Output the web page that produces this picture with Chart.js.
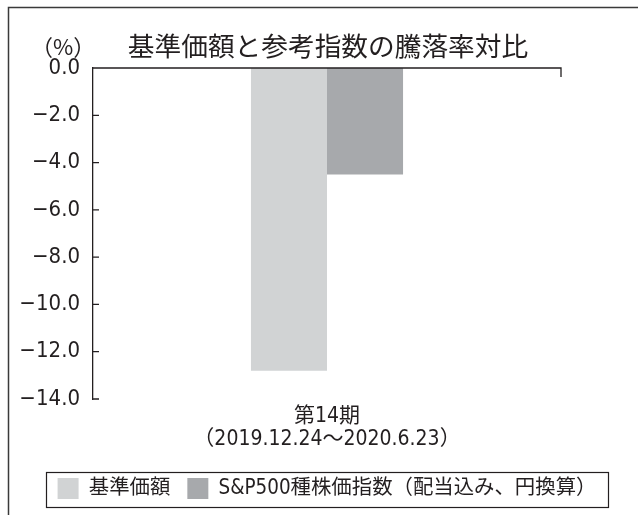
<!DOCTYPE html>
<html lang="ja">
<head>
<meta charset="utf-8">
<title>基準価額と参考指数の騰落率対比</title>
<script src="https://cdn.jsdelivr.net/npm/chart.js@4.4.1/dist/chart.umd.min.js"></script>
<style>
  html, body { margin: 0; padding: 0; background: #fff; }
  #wrap { position: relative; width: 638px; height: 515px; }
</style>
</head>
<body>
<div id="wrap"><canvas id="chart" width="638" height="515"></canvas></div>
<script>
// 基準価額と参考指数の騰落率対比

const chartTitle = '基準価額と参考指数の騰落率対比';
const periodLabels = [['第14期', '（2019.12.24～2020.6.23）']];
const seriesNames = ['基準価額', 'S&P500種株価指数（配当込み、円換算）'];
const fundReturns = [-12.8];
const indexReturns = [-4.5];
const yTickValues = [0, -2, -4, -6, -8, -10, -12, -14];

const colors = {
    text: '#231f20',
    axis: '#231f20',
    frame: '#3a3a3a',
    fund: '#d1d3d4',
    index: '#a7a9ac'
};

const cjkFont = "'Noto Sans CJK JP', sans-serif";
const mixFont = "'Liberation Sans Narrow', 'DejaVu Sans Condensed', 'Noto Sans CJK JP', sans-serif";

/**
 * Frame, title and unit label
 */
const framePlugin = {
    id: 'frame',
    beforeDraw(chart) {
        const ctx = chart.ctx;
        ctx.save();
        ctx.fillStyle = '#fff';
        ctx.fillRect(0, 0, chart.width, chart.height);
        ctx.strokeStyle = colors.frame;
        ctx.lineWidth = 1.5;
        ctx.strokeRect(8.5, 7.5, chart.width + 20, chart.height + 20);

        ctx.fillStyle = colors.text;
        ctx.textBaseline = 'middle';
        ctx.textAlign = 'center';
        ctx.font = '26.7px ' + cjkFont;
        ctx.fillText(chartTitle, 328, 46);
        ctx.textAlign = 'left';
        ctx.font = '22px ' + cjkFont;
        ctx.fillText('（%）', 31, 47);
        ctx.restore();
    }
};

/**
 * Zero line with end tick, inward y ticks, box round the legend
 */
const axisPlugin = {
    id: 'axisMarks',
    afterDraw(chart) {
        const { ctx, chartArea, scales } = chart;
        const y = scales.y;
        const zeroY = y.getPixelForValue(0);
        ctx.save();
        ctx.strokeStyle = colors.axis;
        ctx.lineWidth = 1.3;
        ctx.beginPath();
        ctx.moveTo(chartArea.left, zeroY);
        ctx.lineTo(chartArea.right, zeroY);
        ctx.lineTo(chartArea.right, zeroY + 9);
        y.ticks.forEach(t => {
            const py = y.getPixelForValue(t.value);
            ctx.moveTo(chartArea.left, py);
            ctx.lineTo(chartArea.left + 6, py);
        });
        ctx.stroke();

        const boxes = chart.legend.legendHitBoxes;
        if (boxes && boxes.length) {
            const left = Math.min(...boxes.map(b => b.left)) - 12;
            const right = Math.max(...boxes.map(b => b.left + b.width)) + 11;
            const top = boxes[0].top - 6;
            const bottom = boxes[0].top + boxes[0].height + 8;
            ctx.lineWidth = 1.2;
            ctx.strokeRect(Math.round(left) + 0.5, Math.round(top) + 0.5,
                Math.round(right - left), Math.round(bottom - top));
        }
        ctx.restore();
    }
};

new Chart(document.getElementById('chart'), {
    type: 'bar',
    data: {
        labels: periodLabels,
        datasets: [
            {
                label: seriesNames[0],
                data: fundReturns,
                backgroundColor: colors.fund,
                borderWidth: 0,
                categoryPercentage: 0.325,
                barPercentage: 1.0
            },
            {
                label: seriesNames[1],
                data: indexReturns,
                backgroundColor: colors.index,
                borderWidth: 0,
                categoryPercentage: 0.325,
                barPercentage: 1.0
            }
        ]
    },
    options: {
        responsive: false,
        animation: false,
        layout: {
            padding: { top: 68, right: 0, bottom: 6, left: 16 }
        },
        plugins: {
            title: { display: false },
            tooltip: { enabled: false },
            legend: {
                position: 'bottom',
                labels: {
                    boxWidth: 21,
                    boxHeight: 21,
                    padding: 17,
                    color: colors.text,
                    font: { family: mixFont, size: 20.4 }
                }
            }
        },
        scales: {
            x: {
                grid: { display: false, drawTicks: false },
                border: { display: false },
                ticks: {
                    color: colors.text,
                    padding: 6,
                    maxRotation: 0,
                    autoSkip: false,
                    font: { family: mixFont, size: 21, lineHeight: 1.1 }
                },
                afterFit: s => { s.height = 62; }
            },
            y: {
                min: -14,
                max: 0,
                afterBuildTicks: s => { s.ticks = yTickValues.map(v => ({ value: v })); },
                afterFit: s => { s.width = 77; },
                grid: { display: false, drawTicks: false },
                border: { display: true, color: colors.axis, width: 1.3 },
                ticks: {
                    color: colors.text,
                    padding: 13,
                    font: { family: mixFont, size: 22 },
                    callback: v => v.toFixed(1).replace('-', '−')
                }
            },
            // empty right-hand space so the plot ends where the original does
            yRight: {
                position: 'right',
                min: -14,
                max: 0,
                grid: { display: false, drawTicks: false },
                border: { display: false },
                ticks: { display: false },
                afterFit: s => { s.width = 77; }
            }
        }
    },
    plugins: [framePlugin, axisPlugin]
});
</script>
</body>
</html>
